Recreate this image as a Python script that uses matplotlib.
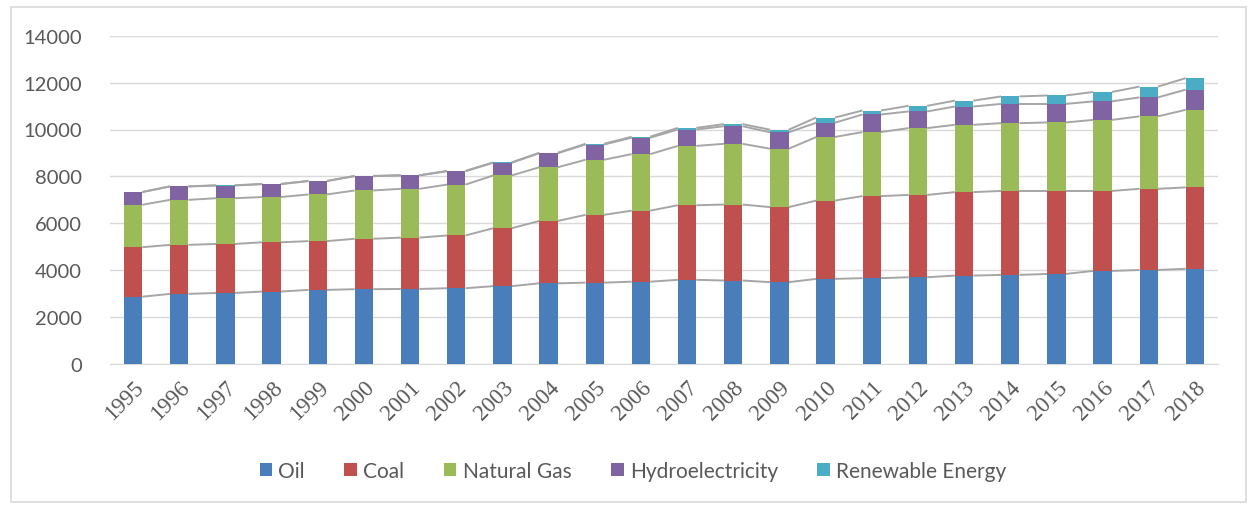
import numpy as np
import matplotlib
matplotlib.use("Agg")
import matplotlib.pyplot as plt
from matplotlib.patches import Rectangle

#
# Data
#
years = [str(y) for y in range(1995, 2019)]
series = ["Oil", "Coal", "Natural Gas", "Hydroelectricity", "Renewable Energy"]

oil = [2870, 2990, 3030, 3090, 3160, 3190, 3200, 3230, 3320, 3440, 3470, 3510,
       3590, 3560, 3490, 3630, 3660, 3700, 3770, 3800, 3840, 3970, 4010, 4060]
coal = [2110, 2090, 2090, 2100, 2080, 2150, 2190, 2250, 2470, 2660, 2890, 3030,
        3180, 3240, 3200, 3340, 3500, 3510, 3560, 3580, 3540, 3410, 3460, 3470]
gas = [1810, 1920, 1950, 1930, 1990, 2060, 2080, 2170, 2250, 2290, 2350, 2410,
       2530, 2590, 2490, 2710, 2730, 2850, 2870, 2890, 2920, 3030, 3090, 3310]
hydro = [540, 570, 540, 550, 570, 610, 570, 570, 540, 600, 650, 700,
         700, 750, 700, 610, 750, 710, 780, 820, 790, 790, 810, 860]
renew = [8, 8, 10, 10, 10, 12, 12, 15, 18, 20, 30, 40,
         70, 90, 110, 220, 170, 240, 250, 320, 360, 400, 460, 490]

colors = ["#4a7ebb", "#c0504d", "#9bbb59", "#8064a2", "#4bacc6"]

#
# Plot
#
W, H = 1249, 506
fig = plt.figure(figsize=(W / 100, H / 100), dpi=100)
ax = fig.add_axes([110 / W, 1 - 365 / H, 1108 / W, 328.3 / H])

# light chart frame like the Excel chart area
fig.patches.append(Rectangle((11 / W, 3 / H), 1235 / W, 495 / H, transform=fig.transFigure,
                             fill=False, edgecolor="#d9d9d9", linewidth=1.2))

x = np.arange(len(years))
width = 0.4
bottom = np.zeros(len(years))
tops = []
for vals, name, c in zip([oil, coal, gas, hydro, renew], series, colors):
    ax.bar(x, vals, width, bottom=bottom, color=c, label=name, zorder=3)
    bottom = bottom + np.array(vals)
    tops.append(bottom.copy())

# series lines between stacked bars
for top in tops:
    for i in range(len(x) - 1):
        ax.plot([x[i] + width / 2, x[i + 1] - width / 2], [top[i], top[i + 1]],
                color="#a6a6a6", lw=1.4, zorder=2, solid_capstyle="butt")

ax.set_xlim(-0.5, len(years) - 0.5)
ax.set_ylim(0, 14000)
ax.set_yticks(range(0, 14001, 2000))
ax.grid(axis="y", color="#d9d9d9", lw=1, zorder=0)
ax.set_axisbelow(True)
for s in ["top", "right", "left"]:
    ax.spines[s].set_visible(False)
ax.spines["bottom"].set_color("#d9d9d9")
ax.tick_params(axis="both", length=0, colors="#595959")
ax.tick_params(axis="y", pad=20)
for lab in ax.get_yticklabels():
    lab.set_fontfamily("Lato")
    lab.set_fontsize(14.5)

ax.set_xticks(x)
ax.set_xticklabels(years, rotation=45, ha="right", rotation_mode="anchor",
                   fontfamily="Liberation Serif", fontsize=16.5)
ax.tick_params(axis="x", pad=9)

fig.legend(loc="center", bbox_to_anchor=(633 / W, 1 - 472 / H), ncol=5, frameon=False,
           prop={"family": "Lato", "size": 15}, labelcolor="#595959",
           handlelength=0.6, handleheight=0.6, handletextpad=0.3, columnspacing=1.9)

plt.savefig("out.png", dpi=100)
